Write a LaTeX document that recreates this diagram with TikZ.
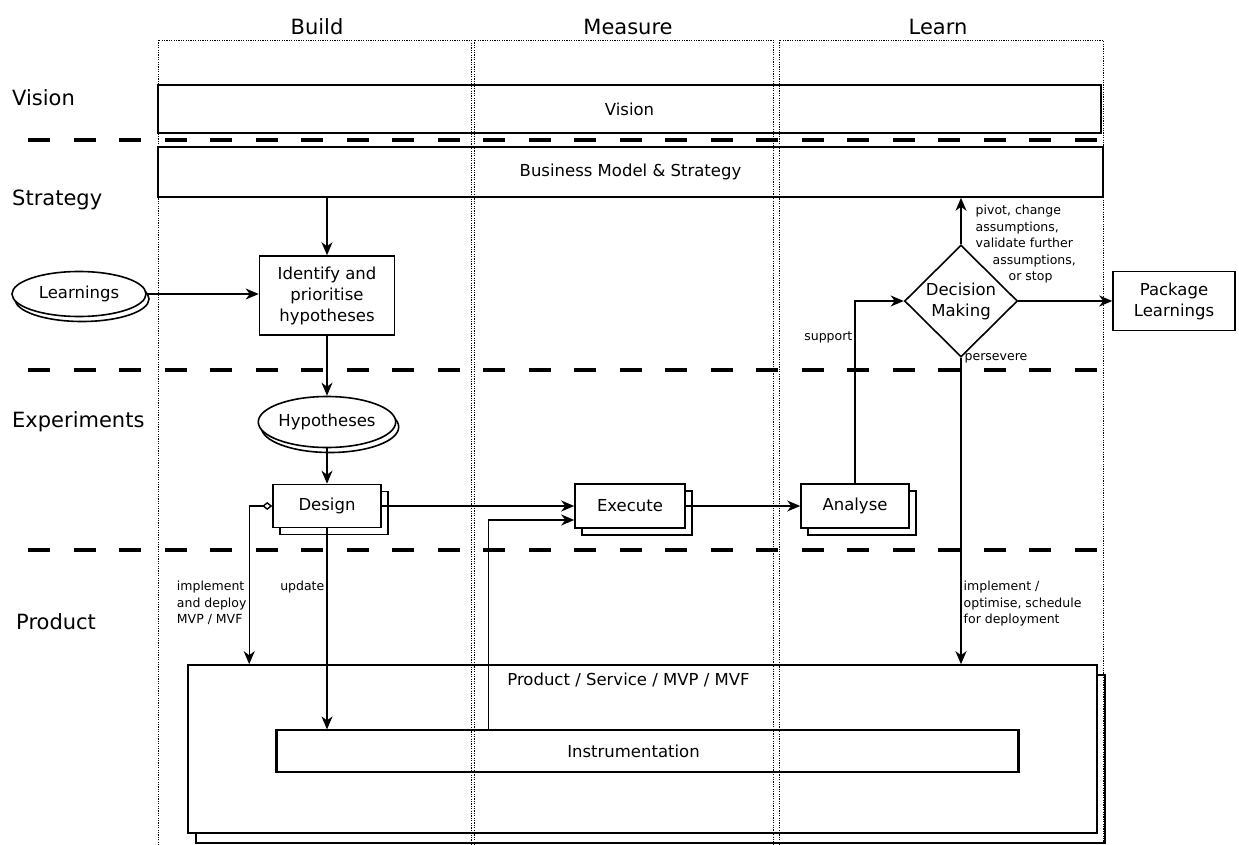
\documentclass[tikz,border=0pt]{standalone}
\usepackage{fontspec}
\setmainfont{DejaVu Sans}
\usetikzlibrary{shapes.geometric, positioning, arrows.meta, shadows}

\begin{document}
\begin{tikzpicture}[x=1pt, y=-1pt,
  box/.style={draw, line width=1.6pt, inner sep=0pt, align=center, font=\fontsize{16.5}{21}\selectfont},
  stack/.style={box, fill=white, copy shadow={shadow xshift=7pt, shadow yshift=-7pt, draw=black, fill=white, line width=1.6pt}},
  store/.style={box, ellipse, fill=white, copy shadow={shadow xshift=3pt, shadow yshift=-5pt, draw=black, fill=white, line width=1.6pt}},
  head/.style={font=\fontsize{21}{25}\selectfont},
  rowlabel/.style={anchor=west, inner sep=0pt, font=\fontsize{21}{25}\selectfont},
  note/.style={align=left, inner sep=2pt, font=\fontsize{12.5}{16.5}\selectfont},
  arr/.style={line width=1.4pt, -{Stealth[length=13pt, width=11pt, inset=4pt]}},
  sep/.style={line width=3.5pt, dash pattern=on 22pt off 23.5pt},
  lane/.style={line width=0.9pt, dash pattern=on 1.2pt off 1.2pt}]
\useasboundingbox (0,0) rectangle (1239,845);

\foreach \y in {140,370,550}
  \draw[sep] (28,\y) -- (1103,\y);

\foreach \x/\t in {317/Build, 628/Measure, 938/Learn}
  \node[head] (h\t) at (\x,27) {\t};

\node[rowlabel] (rvision) at (12,98) {Vision};
\node[rowlabel] (rstrategy) at (12,200) {Strategy};
\node[rowlabel] (rexperiments) at (12,422) {Experiments};
\node[rowlabel] (rproduct) at (16,622) {Product};

\node[box, minimum width=943pt, minimum height=48pt] (vision) at (629.5,109) {Vision};
\node[box, minimum width=945pt, minimum height=50pt] (biz) at (630.5,172) {Business Model \& Strategy};
\node[store, minimum width=134pt, minimum height=45pt] (learnings) at (79,294) {Learnings};
\node[box, minimum width=135pt, minimum height=79pt] (ident) at (327,295.5) {Identify and\\prioritise\\hypotheses};
\node[store, minimum width=136pt, minimum height=51pt] (hyp) at (327,422) {Hypotheses};
\node[stack, minimum width=108pt, minimum height=43pt] (design) at (327,506) {Design};
\node[stack, minimum width=110pt, minimum height=44pt] (execute) at (630,506) {Execute};
\node[stack, minimum width=108pt, minimum height=44pt] (analyse) at (855,506) {Analyse};
\node[box, diamond, minimum width=113pt, minimum height=112pt] (decision) at (961,301) {Decision\\Making};
\node[box, minimum width=122pt, minimum height=59pt] (package) at (1174,301) {Package\\Learnings};
\node[box, fill=white, minimum width=909pt, minimum height=168pt,
  copy shadow={shadow xshift=8pt, shadow yshift=-10pt, draw=black, fill=white, line width=1.6pt},
  label={[font=\fontsize{16.5}{21}\selectfont, anchor=north, xshift=-14pt, yshift=-5pt]north:Product / Service / MVP / MVF}] (product) at (642.5,749) {};
\node[box, fill=white, line width=1.2pt, minimum width=741pt, minimum height=42pt] (instr) at (647.5,751) {Instrumentation\hspace*{28pt}};
\draw[line width=3pt] (instr.north west) -- (instr.south west) (instr.north east) -- (instr.south east);

\draw[arr] (ident |- biz.south) -- (ident.north);
\draw[arr] (learnings.east) -- (learnings.east -| ident.west);
\draw[arr] (ident.south) -- (hyp.north);
\draw[arr] (hyp.south) -- (design.north);
\draw[arr] (design.east) -- (execute.west);
\draw[arr] (execute.east) -- (analyse.west);
\draw[arr] (analyse.north) |- node[note, pos=0.4, anchor=east] {support} (decision.west);
\draw[arr] (decision.north) -- node[note, at end, anchor=north west, xshift=12pt, yshift=-5pt]
  {pivot, change\\assumptions,\\validate further\\\hspace*{17pt}assumptions,\\\hspace*{33pt}or stop} (decision.north |- biz.south);
\draw[arr] (decision.east) -- (package.west);
\draw[arr] (decision.south) -- node[note, at start, anchor=west, xshift=1pt] {persevere}
  node[note, pos=0.72, anchor=north west] {implement /\\optimise, schedule\\for deployment} (decision.south |- product.north);
\draw[line width=1.4pt, {Diamond[open, length=10pt, width=8pt]}-{Stealth[length=13pt, width=11pt, inset=4pt]}]
  (design.west) -| node[note, pos=0.73, anchor=north east] {implement\\and deploy\\MVP / MVF} ([xshift=62pt]product.north west);
\draw[arr] (design.south) -- node[note, pos=0.25, anchor=north east] {update} (design.south |- instr.north);
\draw[arr] ([xshift=212pt]instr.north west) |- ([yshift=-14pt]execute.west);

\draw[lane] (158,850) |- (471,40) -- (471,850);
\draw[lane] (474,850) |- (773,40) -- (773,850);
\draw[lane] (779,850) |- (1103,40) -- (1103,850);
\end{tikzpicture}
\end{document}
